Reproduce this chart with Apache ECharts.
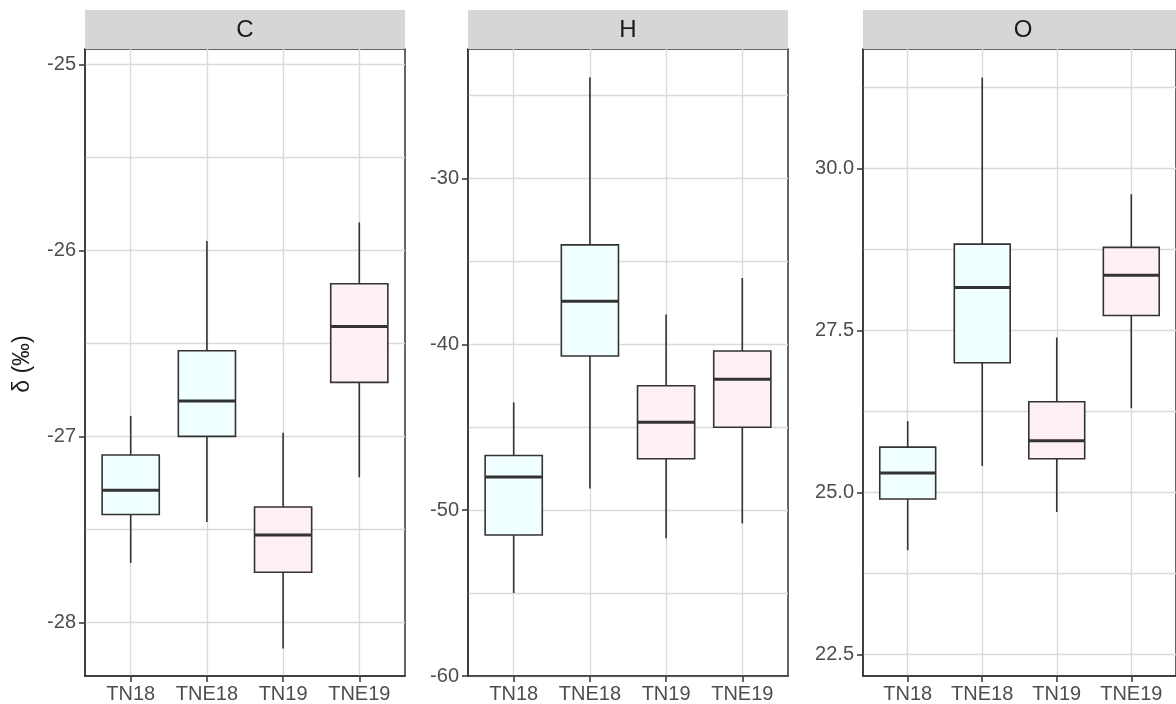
<!DOCTYPE html>
<html>
<head>
<meta charset="utf-8">
<script src="https://cdn.jsdelivr.net/npm/echarts@6/dist/echarts.min.js"></script>
<style>
html,body{margin:0;padding:0;background:#fff;}
#chart{width:1176px;height:704px;}
</style>
</head>
<body>
<div id="chart"></div>
<script>
// ---- data ----
const categories = ['TN18', 'TNE18', 'TN19', 'TNE19'];
const panels = ['C', 'H', 'O'];

const cLow  = [-27.68, -27.46, -28.14, -27.22];
const cQ1   = [-27.42, -27.00, -27.73, -26.71];
const cMed  = [-27.29, -26.81, -27.53, -26.41];
const cQ3   = [-27.10, -26.54, -27.38, -26.18];
const cHigh = [-26.89, -25.95, -26.98, -25.85];

const hLow  = [-55.0, -48.7, -51.7, -50.8];
const hQ1   = [-51.5, -40.7, -46.9, -45.0];
const hMed  = [-48.0, -37.4, -44.7, -42.1];
const hQ3   = [-46.7, -34.0, -42.5, -40.4];
const hHigh = [-43.5, -23.9, -38.2, -36.0];

const oLow  = [24.11, 25.41, 24.70, 26.30];
const oQ1   = [24.90, 27.00, 25.52, 27.73];
const oMed  = [25.30, 28.16, 25.80, 28.35];
const oQ3   = [25.70, 28.83, 26.40, 28.78];
const oHigh = [26.10, 31.40, 27.39, 29.60];

const cTicks = [-28, -27, -26, -25];
const cMinor = [-27.5, -26.5, -25.5];
const hTicks = [-60, -50, -40, -30];
const hMinor = [-55, -45, -35, -25];
const oTicks = [22.5, 25.0, 27.5, 30.0];
const oMinor = [23.75, 26.25, 28.75, 31.25];

const yRanges = [[-28.288, -24.918], [-60, -22.19], [22.17, 31.84]];
const fills = ['#F0FFFF', '#F0FFFF', '#FFF0F5', '#FFF0F5'];

// ---- layout ----
const gridLefts = [85, 468, 863];
const gridW = 320, gridTop = 49, gridH = 629;
const FONT = '"Liberation Sans", Arial, sans-serif';
const GRID_COL = '#DADADA';
const DARK = '#333333';

function buildData(lo, q1, md, q3, hi) {
  return categories.map((c, i) => [i + 1, lo[i], q1[i], md[i], q3[i], hi[i]]);
}
const seriesData = [
  buildData(cLow, cQ1, cMed, cQ3, cHigh),
  buildData(hLow, hQ1, hMed, hQ3, hHigh),
  buildData(oLow, oQ1, oMed, oQ3, oHigh)
];
const majors = [cTicks, hTicks, oTicks];
const minors = [cMinor, hMinor, oMinor];
const fmts = [v => String(v), v => String(v), v => v.toFixed(1)];

function renderItem(params, api) {
  const x = api.value(0);
  const pLow = api.coord([x, api.value(1)]);
  const pQ1 = api.coord([x, api.value(2)]);
  const pMed = api.coord([x, api.value(3)]);
  const pQ3 = api.coord([x, api.value(4)]);
  const pHigh = api.coord([x, api.value(5)]);
  const w = api.size([0.75, 0])[0];
  const fill = fills[params.dataIndex];
  return {
    type: 'group',
    children: [
      { type: 'line', shape: { x1: pLow[0], y1: pLow[1], x2: pQ1[0], y2: pQ1[1] }, style: { stroke: DARK, lineWidth: 1.6 } },
      { type: 'line', shape: { x1: pHigh[0], y1: pHigh[1], x2: pQ3[0], y2: pQ3[1] }, style: { stroke: DARK, lineWidth: 1.6 } },
      { type: 'rect', shape: { x: pQ3[0] - w / 2, y: pQ3[1], width: w, height: pQ1[1] - pQ3[1] }, style: { fill: fill, stroke: DARK, lineWidth: 1.6 } },
      { type: 'line', shape: { x1: pMed[0] - w / 2, y1: pMed[1], x2: pMed[0] + w / 2, y2: pMed[1] }, style: { stroke: DARK, lineWidth: 3 } }
    ]
  };
}

const grid = [], xAxis = [], yAxis = [], series = [], graphic = [];
panels.forEach((p, k) => {
  grid.push({ left: gridLefts[k], top: gridTop, width: gridW, height: gridH, show: true, borderColor: DARK, borderWidth: 1.5, backgroundColor: 'transparent' });
  xAxis.push({
    type: 'value', gridIndex: k, min: 0.4, max: 4.6,
    axisLine: { show: true, lineStyle: { color: DARK, width: 1.5 } },
    axisTick: { show: true, length: 6, customValues: [1, 2, 3, 4], lineStyle: { color: DARK, width: 1.5 } },
    axisLabel: { show: true, customValues: [1, 2, 3, 4], formatter: v => categories[Math.round(v) - 1], color: '#4D4D4D', fontSize: 20, fontFamily: FONT, margin: 8 },
    splitLine: { show: true, lineStyle: { color: GRID_COL, width: 1.4 } }
  });
  // major y axis
  yAxis.push({
    type: 'value', gridIndex: k, min: yRanges[k][0], max: yRanges[k][1], position: 'left',
    axisLine: { show: true, lineStyle: { color: DARK, width: 1.5 } },
    axisTick: { show: true, length: 6, customValues: majors[k], lineStyle: { color: DARK, width: 1.5 } },
    axisLabel: { show: true, customValues: majors[k], formatter: fmts[k], color: '#4D4D4D', fontSize: 20, fontFamily: FONT, margin: 9 },
    splitLine: { show: true, lineStyle: { color: GRID_COL, width: 1.4 } }
  });
  // minor y axis (gridlines only)
  yAxis.push({
    type: 'value', gridIndex: k, min: yRanges[k][0], max: yRanges[k][1], position: 'right',
    axisLine: { show: false },
    axisTick: { show: false, customValues: minors[k] },
    axisLabel: { show: false },
    splitLine: { show: true, lineStyle: { color: GRID_COL, width: 1.3 } }
  });
  series.push({
    type: 'custom', name: p, xAxisIndex: k, yAxisIndex: 2 * k, z: 10,
    renderItem: renderItem,
    encode: { x: 0, y: [1, 2, 3, 4, 5] },
    data: seriesData[k],
    silent: true
  });
  graphic.push({
    type: 'rect', left: gridLefts[k], top: 10,
    shape: { width: gridW, height: 39 },
    style: { fill: '#D6D6D6' }, z: 1
  });
  graphic.push({
    type: 'text', x: gridLefts[k] + gridW / 2, y: 30, z: 2,
    style: { text: p, fill: '#1A1A1A', font: '24px ' + FONT, textAlign: 'center', textVerticalAlign: 'middle' }
  });
});
graphic.push({
  type: 'text', x: 23, y: 364, rotation: Math.PI / 2, z: 2,
  style: { text: 'δ (‰)', fill: '#1A1A1A', font: '23px ' + FONT, textAlign: 'center', textVerticalAlign: 'middle' }
});

const chart = echarts.init(document.getElementById('chart'), null, { renderer: 'canvas' });
chart.setOption({
  animation: false,
  backgroundColor: '#ffffff',
  grid, xAxis, yAxis, series, graphic
});
</script>
</body>
</html>
